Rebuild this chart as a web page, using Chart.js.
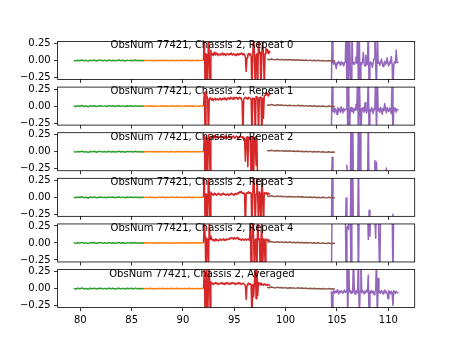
<!DOCTYPE html>
<html>
<head>
<meta charset="utf-8">
<script src="https://cdn.jsdelivr.net/npm/chart.js@4.4.1/dist/chart.umd.min.js"></script>
<style>
  html, body { margin: 0; padding: 0; background: #fff; }
  #fig { position: relative; width: 461px; height: 346px; }
  #fig canvas { position: absolute; left: 0; top: 0; }
</style>
</head>
<body>
<div id="fig"></div>
<script>
// Sampling grid of each band segment: first frequency and step
const greenStart = 79.37, orangeStart = 86.0, redStart = 92.0, brownStart = 98.2, purpleStart = 104.45;
const coarseStep = 0.2, fineStep = 0.08;

const panelTitles = [
    'ObsNum 77421, Chassis 2, Repeat 0',
    'ObsNum 77421, Chassis 2, Repeat 1',
    'ObsNum 77421, Chassis 2, Repeat 2',
    'ObsNum 77421, Chassis 2, Repeat 3',
    'ObsNum 77421, Chassis 2, Repeat 4',
    'ObsNum 77421, Chassis 2, Averaged'
];
const xTicks = [80, 85, 90, 95, 100, 105, 110];
const yTicks = [-0.25, 0, 0.25];

// quiet bands, the same in every repeat
const greenVals = [0.002, -0.006, 0.004, -0.003, 0.008, -0.005, 0.001, -0.009, 0.004, -0.002, 0.006, -0.007,
    0.002, 0.005, -0.004, 0.003, -0.006, 0.007, -0.003, 0.004, -0.005, 0.001, 0.006, -0.004, 0.003, -0.007,
    0.005, -0.002, 0.004, -0.005, 0.007, -0.003, 0.002, -0.004, 0.003];
const orangeVals = [0.001, -0.004, 0.003, -0.002, 0.005, -0.003, 0.002, -0.005, 0.003, -0.001, 0.004, -0.003,
    0.002, -0.004, 0.003, 0.001, -0.003, 0.004, -0.002, 0.003, -0.004, 0.002, -0.001, 0.004, -0.003, 0.002,
    -0.004, 0.003, -0.002, 0.001, 0.0];
const brownVals = [0.02, 0.012, 0.022, 0.015, 0.01, 0.019, 0.011, 0.016, 0.008, 0.014, 0.006, 0.013, 0.007,
    0.01, 0.003, 0.011, 0.004, 0.008, 0.0, 0.007, -0.002, 0.005, -0.003, 0.004, -0.005, 0.002, -0.006, 0.001,
    -0.004, -0.008, 0.0, -0.007, -0.003, -0.008];

// red band (92 - 98.5)
const redRepeat0 = [0.0, 0.45, -0.5, 0.1, 0.08, -0.5, 0.45, 0.09, -0.4, 0.15,
    0.08, 0.1, 0.07, 0.12, 0.09, 0.08, 0.11, 0.1, 0.07, 0.09, 0.1, 0.08, 0.09, 0.11, 0.08, 0.1, 0.09, 0.07, 0.09, 0.1,
    0.09, 0.08, 0.1, 0.09, 0.11, 0.08, 0.09, 0.1, 0.08, 0.09, 0.07, 0.1, 0.09, 0.08, 0.1, 0.09, 0.11, 0.1, 0.08, 0.1,
    0.09, 0.05, -0.16, 0.04, 0.09, 0.1, 0.08, 0.1, 0.06,
    -0.5, 0.09, 0.4, 0.1, -0.5, 0.08, 0.1, -0.45, 0.4, 0.1, 0.12, -0.5, 0.09, 0.3, 0.1, -0.4, 0.1,
    0.18, 0.12, 0.16, 0.1, 0.14, 0.11];
const redRepeat1 = [0.0, 0.2, -0.5, 0.22, 0.15, 0.12, -0.5, 0.1, 0.12, 0.1,
    0.09, 0.11, 0.08, 0.1, 0.12, 0.09, 0.1, 0.11, 0.09, 0.1, 0.12, 0.1, 0.09, 0.11, 0.1, 0.12, 0.1, 0.11, 0.09, 0.12,
    0.11, 0.12, 0.1, 0.13, 0.11, 0.12, 0.1, 0.13, 0.12, 0.11, 0.13, 0.12, 0.1, 0.12, 0.13, 0.11, 0.12, 0.06, -0.45, 0.1,
    0.12, 0.13, 0.11, 0.12, 0.1, 0.13, 0.12, 0.11, 0.1,
    -0.45, 0.12, 0.1, 0.11, -0.5, 0.14, 0.11, 0.12, -0.4, 0.12, 0.13, 0.1, -0.5, 0.12, -0.18, 0.15, 0.16,
    0.2, 0.17, 0.19, 0.15, 0.18, 0.16];
const redRepeat2 = [0.0, 0.24, -0.5, 0.22, 0.2, -0.45, 0.25, 0.2, -0.35, 0.22,
    0.2, 0.23, 0.21, 0.24, 0.2, 0.22, 0.21, 0.23, 0.2, 0.22, 0.21, 0.2, 0.23, 0.21, 0.22, 0.2, 0.23, 0.21, 0.22, 0.2,
    0.22, 0.21, 0.23, 0.2, 0.22, 0.21, 0.23, 0.22, 0.2, 0.21, 0.23, 0.22, 0.21, 0.2, 0.22, 0.23, 0.21, 0.22, 0.2, 0.21,
    0.18, -0.14, 0.2, 0.22, -0.22, 0.21, 0.2, 0.22, -0.5,
    0.21, 0.2, -0.45, 0.2, 0.22, -0.2, 0.2, -0.6, -0.6, -0.6, -0.6, -0.6, -0.6, -0.6, -0.6, -0.6, -0.6,
    -0.6, -0.6, -0.6, -0.6, -0.6, -0.6];
const redRepeat3 = [0.0, 0.45, -0.5, 0.05, 0.04, -0.45, 0.5, 0.05, -0.4, 0.08,
    0.04, 0.05, 0.03, 0.06, 0.04, 0.05, 0.03, 0.04, 0.06, 0.05, 0.04, 0.03, 0.05, 0.04, 0.06, 0.04, 0.05, 0.03, 0.04, 0.05,
    0.04, 0.03, 0.05, 0.04, 0.06, 0.05, 0.04, 0.03, 0.05, 0.06, 0.04, 0.05, 0.07, 0.06, 0.08, 0.07, 0.09, 0.06, 0.07, 0.05,
    0.06, -0.5, 0.05, 0.07, 0.06, 0.08, 0.06, 0.07, 0.05,
    -0.5, 0.05, 0.4, 0.06, -0.45, 0.05, 0.35, 0.06, -0.5, 0.08, 0.05, -0.4, 0.3, 0.06, -0.5, 0.07, 0.06,
    0.05, 0.07, 0.04, 0.06, 0.05, 0.04];
const redRepeat4 = [0.0, 0.4, 0.08, -0.5, 0.05, 0.06, -0.5, 0.35, 0.05, 0.1,
    0.06, 0.04, 0.05, 0.03, 0.05, 0.06, 0.04, 0.05, 0.03, 0.04, 0.06, 0.05, 0.04, 0.05, 0.06, 0.04, 0.05, 0.04, 0.06, 0.05,
    0.05, 0.06, 0.07, 0.06, 0.08, 0.07, 0.06, 0.08, 0.07, 0.06, 0.07, 0.08, 0.06, 0.05, 0.06, 0.05, 0.04, 0.06, 0.05, 0.04,
    0.05, 0.06, 0.04, 0.05, 0.06, 0.05, 0.04, 0.3, -0.5,
    0.05, 0.4, 0.06, -0.45, 0.05, 0.06, -0.5, 0.4, 0.05, 0.06, -0.4, 0.05, 0.3, -0.5, 0.06, 0.05, -0.3,
    0.06, 0.04, 0.05, 0.03, 0.04, 0.05];
const redAveraged = [0.0, 0.3, -0.5, 0.08, 0.45, -0.5, 0.07, 0.4, -0.3, 0.1,
    0.07, 0.08, 0.06, 0.08, 0.07, 0.09, 0.07, 0.08, 0.06, 0.07, 0.08, 0.07, 0.09, 0.07, 0.08, 0.06, 0.08, 0.07, 0.09, 0.07,
    0.08, 0.07, 0.06, 0.08, 0.07, 0.09, 0.08, 0.07, 0.08, 0.06, 0.07, 0.08, 0.07, 0.09, 0.07, 0.08, 0.06, 0.07, 0.08, 0.07,
    0.06, 0.04, -0.16, 0.05, 0.07, 0.08, 0.06, 0.07, 0.05,
    -0.5, 0.06, -0.12, 0.08, 0.4, -0.15, 0.3, -0.1, 0.09, 0.06, 0.08, 0.05, 0.07, 0.06, 0.05, 0.07, 0.06,
    0.05, 0.06, 0.05, 0.06, 0.05, 0.04];

// purple band (104.5 - 111)
const purpleRepeat0 = [-0.5, 0.5, -0.03, -0.06, -0.02, -0.05,
    -0.12, -0.03, -0.05, -0.01, -0.04, -0.07, -0.02, -0.05, -0.03, -0.08, -0.04, -0.02,
    0.5, -0.5, 0.5, -0.5, 0.5, -0.04,
    -0.5, 0.5, -0.05, -0.02, -0.06, -0.03, 0.05, -0.04,
    0.5, -0.5, 0.5, -0.5, -0.03, -0.06,
    -0.02, 0.12, -0.05, -0.08, 0.08, -0.03, -0.06,
    0.5, -0.5, -0.04, -0.02,
    -0.05, -0.1, -0.03, 0.03,
    0.5, -0.05, -0.5, 0.5, -0.04,
    -0.02, -0.07, -0.03, 0.02, -0.05, -0.09, -0.04, -0.01, -0.06, -0.03, 0.04, -0.05, -0.08, -0.02, -0.04, 0.06,
    -0.06, -0.5, -0.07, -0.02, -0.04, 0.15, -0.03, -0.02];
const purpleRepeat1 = [-0.5, 0.5, -0.08, -0.03, -0.1, -0.04,
    -0.06, -0.12, -0.02, -0.07, -0.04, -0.09, -0.01, -0.06, -0.1, -0.03, -0.07, -0.05,
    -0.04, 0.5, -0.5, 0.5, -0.5, -0.06, -0.02, -0.08,
    -0.04, -0.1, -0.03, -0.06, 0.02, -0.05,
    0.5, -0.5, 0.5, -0.05, -0.5, -0.03,
    -0.07, -0.02, -0.09, 0.05, -0.06, -0.1, -0.04,
    0.5, -0.5, -0.05, -0.08,
    -0.02, -0.06, -0.11, -0.03,
    -0.05, 0.5, -0.5, 0.5, -0.07,
    -0.04, -0.09, -0.02, -0.06, -0.12, -0.03, -0.07, 0.04, -0.05, -0.1, -0.02, -0.06, -0.08, -0.03, -0.05, -0.11,
    0.4, -0.5, -0.02, -0.07, -0.03, -0.09, -0.05, -0.04];
const purpleRepeat2 = [-0.6, -0.08, -0.6, -0.6, -0.6, -0.6, -0.6, -0.6, -0.6, -0.6,
    -0.6, -0.6, -0.6, -0.6, -0.6, -0.6, -0.6, -0.6, -0.6, -0.2,
    -0.6, -0.6, -0.6, -0.6, 0.6, -0.6, 0.6, -0.6, -0.6, -0.6,
    -0.6, -0.6, -0.6, 0.6, -0.6, 0.6, -0.6, -0.6, -0.6, -0.6,
    -0.6, -0.6, -0.6, -0.6, -0.6, 0.6, -0.6, -0.6, -0.6, -0.6,
    -0.6, -0.6, -0.6, -0.13, -0.6, -0.15, -0.6, -0.6, -0.6, -0.6,
    -0.6, -0.6, -0.6, -0.6, -0.6, -0.6, -0.6, -0.24, -0.6, -0.6,
    -0.6, -0.6, -0.6, -0.6, -0.6, -0.6, -0.6, -0.6, -0.6, -0.6, -0.6, -0.6];
const purpleRepeat3 = [-0.6, 0.6, -0.6, -0.6, -0.6, -0.6, -0.6, -0.6, -0.6, -0.6,
    -0.6, -0.6, -0.6, -0.6, -0.6, -0.6, -0.6, -0.6, -0.01, -0.6,
    -0.6, -0.6, -0.6, -0.6, 0.6, -0.6, 0.6, -0.6, -0.6, -0.6,
    -0.6, -0.6, -0.6, 0.6, -0.6, -0.6, -0.6, -0.6, -0.6, -0.6,
    -0.6, -0.6, -0.6, -0.6, -0.6, -0.6, -0.19, -0.6, -0.6, -0.6,
    -0.6, -0.6, -0.6, -0.6, -0.6, -0.6, -0.6, -0.6, -0.6, -0.6,
    -0.6, -0.6, -0.6, -0.6, -0.6, -0.6, -0.6, -0.6, -0.6, -0.6,
    -0.6, -0.6, -0.6, -0.6, -0.6, -0.25, -0.6, -0.6, -0.6, -0.6, -0.6, -0.6];
const purpleRepeat4 = [-0.6, 0.6, 0.6, 0.6, 0.6, 0.6, 0.6, 0.6, 0.6, 0.6,
    0.6, 0.6, 0.6, 0.6, 0.6, 0.6, 0.6, 0.6, -0.6, 0.22,
    0.25, 0.2, 0.6, 0.6, -0.6, 0.6, 0.6, 0.6, 0.6, 0.6,
    0.6, 0.6, 0.6, -0.6, 0.6, 0.6, 0.6, 0.6, 0.6, 0.6,
    0.6, 0.6, 0.6, 0.6, 0.6, 0.05, 0.6, 0.1, 0.6, 0.6,
    0.6, 0.6, 0.6, 0.6, 0.07, 0.6, 0.6, 0.6, 0.6, -0.6,
    0.6, 0.6, 0.6, 0.6, 0.6, 0.6, 0.6, 0.6, 0.6, 0.6,
    0.6, 0.6, 0.6, 0.6, 0.6, -0.6, 0.6, 0.6, 0.6, 0.6, 0.6, 0.6];
const purpleAveraged = [-0.04, -0.5, -0.05, -0.03, -0.07, -0.04, -0.06, -0.02, -0.05, -0.08,
    -0.04, -0.06, -0.03, -0.05, -0.07, -0.04, -0.02, -0.06, -0.04,
    0.5, -0.5, 0.5, -0.05, -0.03, -0.07, -0.04, -0.06, 0.5, -0.05, -0.08, -0.03, -0.05, -0.06,
    0.5, -0.5, -0.04, 0.5, -0.06, -0.03, -0.05, -0.08, -0.04, -0.06, -0.02, -0.05,
    0.2, -0.5, -0.04, -0.07, -0.03, -0.06, -0.04, -0.09, -0.05, -0.03,
    0.5, -0.5, 0.15, -0.06, -0.04, -0.07, -0.03, -0.05, -0.08, -0.04, -0.02, -0.06, -0.04, -0.07, -0.15,
    -0.03, -0.05, -0.08, -0.04, -0.06, -0.25, -0.03, -0.05, -0.07, -0.04, -0.06, -0.05];

const redSets = [redRepeat0, redRepeat1, redRepeat2, redRepeat3, redRepeat4, redAveraged];
const purpleSets = [purpleRepeat0, purpleRepeat1, purpleRepeat2, purpleRepeat3, purpleRepeat4, purpleAveraged];

// figure layout (pixels)
const FIG_W = 461, FIG_H = 346;
const AX_LEFT = 57.6, AX_RIGHT = 414.7, AX_TOP = 41.47, AX_BOTTOM = 307.58;
const X_AXIS_H = 20;
const nPanels = panelTitles.length;
const panelH = (AX_BOTTOM - AX_TOP) / (nPanels + (nPanels - 1) * 0.2);
const gapH = panelH * 0.2;
const titleX = 91.85;

Chart.defaults.font.family = '"DejaVu Sans", sans-serif';
Chart.defaults.font.size = 10;
Chart.defaults.color = '#000';

function series(start, step, vals) {
    return vals.map((v, i) => ({ x: +(start + i * step).toFixed(3), y: v }));
}

function segment(data, color) {
    return {
        data: data,
        borderColor: color,
        borderWidth: 1.5,
        borderJoinStyle: 'round',
        pointRadius: 0,
        tension: 0,
        fill: false,
        clip: 0
    };
}

// axes box drawn over the lines
const framePlugin = {
    id: 'frame',
    afterDatasetsDraw(chart) {
        const { ctx, chartArea: a } = chart;
        ctx.save();
        ctx.strokeStyle = '#000';
        ctx.lineWidth = 0.8;
        ctx.strokeRect(a.left, a.top, a.right - a.left, a.bottom - a.top);
        ctx.restore();
    }
};

const titlePlugin = {
    id: 'panelTitle',
    afterDraw(chart, args, opts) {
        const { ctx, chartArea, scales } = chart;
        ctx.save();
        ctx.font = '10px "DejaVu Sans"';
        ctx.fillStyle = '#000';
        ctx.textAlign = 'center';
        ctx.textBaseline = 'alphabetic';
        ctx.fillText(opts.text, scales.x.getPixelForValue(titleX), chartArea.top + 7);
        ctx.restore();
    }
};

const tickGrid = {
    display: true,
    drawOnChartArea: false,
    drawTicks: true,
    tickLength: 3.5,
    tickWidth: 0.8,
    tickColor: '#000'
};

const fig = document.getElementById('fig');

panelTitles.forEach((title, i) => {
    const canvas = document.createElement('canvas');
    canvas.width = FIG_W;
    canvas.height = FIG_H;
    fig.appendChild(canvas);

    const top = AX_TOP + i * (panelH + gapH);
    const bottom = top + panelH;
    const isLast = i === nPanels - 1;

    new Chart(canvas, {
        type: 'line',
        data: {
            datasets: [
                segment(series(greenStart, coarseStep, greenVals), '#2ca02c'),
                segment(series(orangeStart, coarseStep, orangeVals), '#ff7f0e'),
                segment(series(redStart, fineStep, redSets[i]), '#d62728'),
                segment(series(brownStart, coarseStep, brownVals), '#8c564b'),
                segment(series(purpleStart, fineStep, purpleSets[i]), '#9467bd')
            ]
        },
        options: {
            responsive: false,
            animation: false,
            devicePixelRatio: 1,
            layout: {
                padding: { left: 0, right: FIG_W - AX_RIGHT, top: top, bottom: FIG_H - bottom - X_AXIS_H }
            },
            plugins: {
                legend: { display: false },
                tooltip: { enabled: false },
                panelTitle: { text: title }
            },
            scales: {
                x: {
                    type: 'linear',
                    min: 77.79,
                    max: 112.57,
                    afterBuildTicks: s => { s.ticks = xTicks.map(v => ({ value: v })); },
                    afterFit: s => { s.height = X_AXIS_H; },
                    grid: tickGrid,
                    border: { display: false },
                    ticks: { display: isLast, padding: 3.5, maxRotation: 0, callback: v => String(v) }
                },
                y: {
                    type: 'linear',
                    min: -0.28,
                    max: 0.28,
                    afterBuildTicks: s => { s.ticks = yTicks.map(v => ({ value: v })); },
                    afterFit: s => { s.width = AX_LEFT; },
                    grid: tickGrid,
                    border: { display: false },
                    ticks: { padding: 3.5, callback: v => v.toFixed(2).replace('-', '\u2212') }
                }
            }
        },
        plugins: [framePlugin, titlePlugin]
    });
});
</script>
</body>
</html>
